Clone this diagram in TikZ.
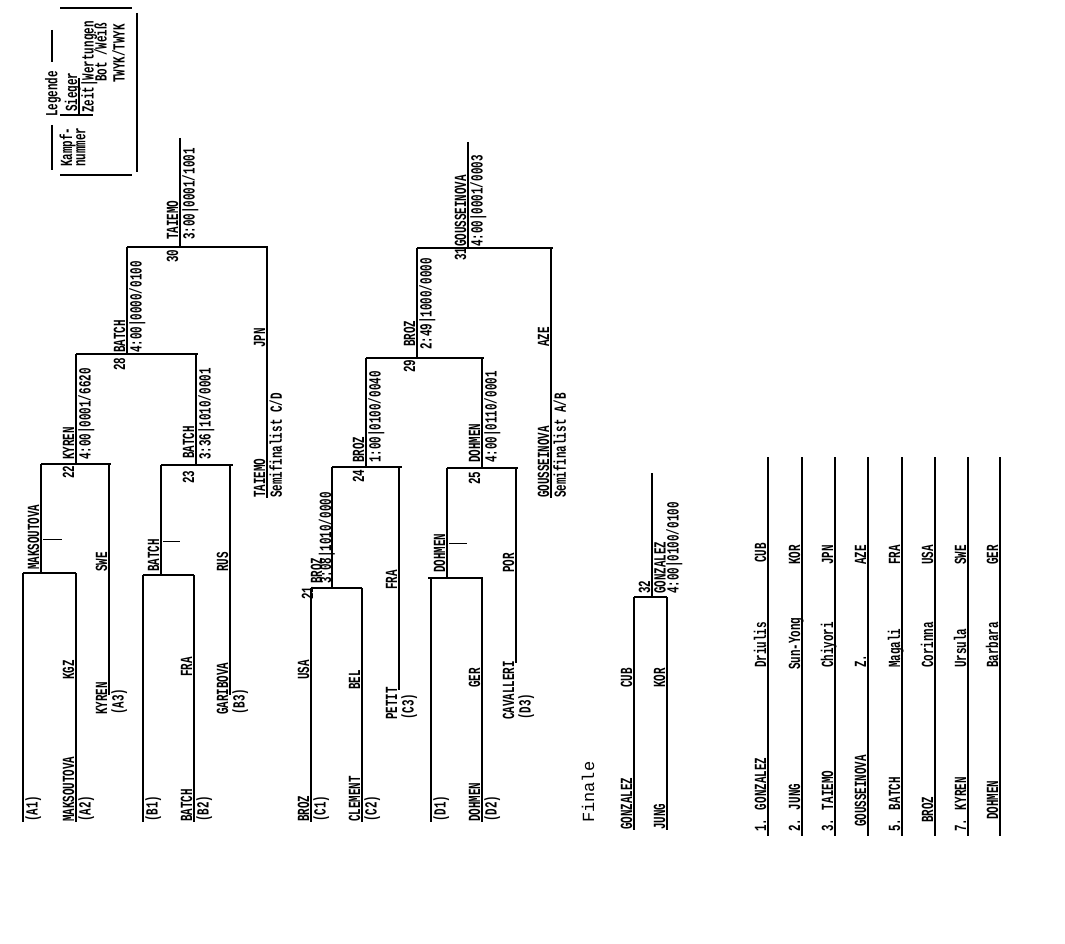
\documentclass[tikz,border=0pt]{standalone}
\usepackage{fontspec}
\newfontfamily\cond[FakeStretch=0.64]{Liberation Mono}
\newfontfamily\plainmono{Liberation Mono}
\begin{document}
\begin{tikzpicture}[x=1pt,y=-1pt]
\tikzset{ln/.style={line width=1.2pt,black},
  lbl/.style={font=\cond\bfseries\fontsize{17}{17}\selectfont,inner sep=0pt,rotate=90},
  tick/.style={line width=0.9pt,black}}
\newcommand\VL[4]{\coordinate (#1t) at (#2,#3); \coordinate (#1b) at (#2,#4); \draw[ln] (#1t) -- (#1b);}
\newcommand\HL[4]{\coordinate (#1l) at (#3,#2); \coordinate (#1r) at (#4,#2); \draw[ln] (#1l) -- (#1r);}
\newcommand\LT[4]{\node[lbl,anchor=base west] (#1) at (#2-2,#3) {#4};}
\newcommand\RT[4]{\node[lbl,anchor=north west] (#1) at (#2+2,#3) {#4};}
\useasboundingbox (0,0) rectangle (1065,944);
\fill[white] (0,0) rectangle (1065,944);
% ---------- Legend ----------
\HL{lgT}{8}{60}{132}
\HL{lgB}{175}{60}{132}
\VL{lgR}{137}{13}{172}
\VL{lgL1}{52}{30}{62}
\VL{lgL2}{52}{125}{170}
\node[lbl,anchor=center] (lgTitle) at (53,94) {Legende};
\LT{lgK}{74}{167}{Kampf-}
\RT{lgN}{74}{167}{nummer}
\HL{lgS}{115}{60}{93}
\LT{lgSi}{79}{112}{Sieger}
\RT{lgZ}{79}{113}{Zeit|Wertungen}
\RT{lgBW}{92}{82}{Bot /Weiß}
\RT{lgTW}{110}{83}{TWYK/TWYK}
\VL{lgKu}{79}{78}{115}
% ---------- Pool A ----------
\VL{A1}{23}{573}{822}
\VL{A2}{76}{573}{822}
\HL{cAA}{573}{23}{76}
\VL{wA}{41}{464}{573}
\VL{A3}{109}{464}{695}
\HL{c22}{464}{41}{111}
\VL{w22}{76}{354}{464}
\RT{tA1}{23}{822}{(A1)}
\LT{tA2}{76}{822}{MAKSOUTOVA}
\RT{tA2c}{76}{822}{(A2)}
\LT{tA2n}{76}{680}{KGZ}
\LT{twA}{41}{570}{MAKSOUTOVA}
\coordinate (tkA1) at (43,539); \coordinate (tkA2) at (62,539);
\draw[tick] (tkA1) -- (tkA2);
\LT{tA3n}{109}{572}{SWE}
\LT{tA3}{109}{715}{KYREN}
\RT{tA3c}{109}{715}{(A3)}
\LT{n22}{76}{479}{22}
\LT{tw22}{76}{460}{KYREN}
\RT{sw22}{76}{460}{4:00|0001/6620}
% ---------- Pool B ----------
\VL{B1}{143}{575}{822}
\VL{B2}{194}{575}{822}
\HL{cBB}{575}{143}{194}
\VL{wB}{161}{465}{575}
\VL{B3}{230}{465}{695}
\HL{c23}{465}{161}{233}
\VL{w23}{196}{354}{465}
\HL{c28}{354}{76}{198}
\RT{tB1}{143}{822}{(B1)}
\LT{tB2}{194}{822}{BATCH}
\RT{tB2c}{194}{822}{(B2)}
\LT{tB2n}{194}{677}{FRA}
\LT{twB}{161}{572}{BATCH}
\coordinate (tkB1) at (163,541); \coordinate (tkB2) at (180,541);
\draw[tick] (tkB1) -- (tkB2);
\LT{tB3n}{230}{572}{RUS}
\LT{tB3}{230}{715}{GARIBOVA}
\RT{tB3c}{230}{715}{(B3)}
\LT{n23}{196}{484}{23}
\LT{tw23}{196}{459}{BATCH}
\RT{sw23}{196}{460}{3:36|1010/0001}
\LT{n28}{127}{371}{28}
\VL{w28}{127}{247}{354}
\LT{tw28}{127}{353}{BATCH}
\RT{sw28}{127}{353}{4:00|0000/0100}
\VL{SCD}{267}{247}{498}
\LT{tSCDn}{267}{348}{JPN}
\LT{tSCD}{267}{498}{TAIEMO}
\RT{tSCDs}{267}{498}{Semifinalist C/D}
\HL{c30}{247}{127}{268}
\LT{n30}{180}{263}{30}
\VL{w30}{180}{138}{247}
\LT{tw30}{180}{240}{TAIEMO}
\RT{sw30}{180}{240}{3:00|0001/1001}
% ---------- Pool C ----------
\VL{C1}{311}{588}{822}
\VL{C2}{362}{588}{822}
\HL{c21}{588}{311}{362}
\VL{w21}{332}{467}{588}
\LT{tC1}{311}{822}{BROZ}
\RT{tC1c}{311}{822}{(C1)}
\LT{tC1n}{311}{680}{USA}
\LT{tC2}{362}{822}{CLEMENT}
\RT{tC2c}{362}{822}{(C2)}
\LT{tC2n}{362}{690}{BEL}
\LT{n21}{315}{600}{21}
\LT{tw21}{324}{584}{BROZ}
\LT{sw21}{333}{584}{3:08|1010/0000}
\VL{C3}{399}{467}{690}
\LT{tC3n}{399}{590}{FRA}
\LT{tC3}{399}{720}{PETIT}
\RT{tC3c}{399}{720}{(C3)}
\HL{c24}{467}{332}{402}
\LT{n24}{366}{483}{24}
\VL{w24}{366}{358}{467}
\LT{tw24}{366}{463}{BROZ}
\RT{sw24}{366}{463}{1:00|0100/0040}
\HL{c29}{358}{366}{484}
\LT{n29}{417}{373}{29}
\VL{w29}{417}{248}{358}
\LT{tw29}{417}{347}{BROZ}
\RT{sw29}{417}{350}{2:49|1000/0000}
\HL{c31}{248}{417}{553}
\LT{n31}{468}{261}{31}
\VL{w31}{468}{142}{248}
\LT{tw31}{468}{247}{GOUSSEINOVA}
\RT{sw31}{468}{247}{4:00|0001/0003}
\VL{SAB}{551}{248}{498}
\LT{tSABn}{551}{347}{AZE}
\LT{tSAB}{551}{498}{GOUSSEINOVA}
\RT{tSABs}{551}{498}{Semifinalist A/B}
% ---------- Pool D ----------
\VL{D1}{431}{578}{822}
\VL{D2}{482}{578}{822}
\HL{cDD}{578}{428}{483}
\VL{wD}{447}{468}{578}
\VL{D3}{516}{468}{663}
\HL{c25}{468}{447}{518}
\VL{w25}{482}{358}{468}
\RT{tD1}{431}{822}{(D1)}
\LT{tD2}{482}{822}{DOHMEN}
\RT{tD2c}{482}{822}{(D2)}
\LT{tD2n}{482}{688}{GER}
\LT{twD}{447}{573}{DOHMEN}
\coordinate (tkD1) at (449,543); \coordinate (tkD2) at (467,543);
\draw[tick] (tkD1) -- (tkD2);
\LT{tD3n}{516}{573}{POR}
\LT{tD3}{516}{720}{CAVALLERI}
\RT{tD3c}{516}{720}{(D3)}
\LT{n25}{482}{485}{25}
\LT{tw25}{482}{463}{DOHMEN}
\RT{sw25}{482}{463}{4:00|0110/0001}
% ---------- Finale ----------
\node[rotate=90,inner sep=0pt,anchor=base west,font=\plainmono\fontsize{17}{17}\selectfont] (fin) at (594,823) {Finale};
\VL{F1}{634}{597}{830}
\VL{F2}{667}{597}{830}
\HL{c32}{597}{634}{667}
\VL{w32}{652}{473}{597}
\LT{tF1}{634}{830}{GONZALEZ}
\LT{tF1n}{634}{688}{CUB}
\LT{tF2}{667}{830}{JUNG}
\LT{tF2n}{667}{688}{KOR}
\LT{n32}{652}{594}{32}
\RT{tw32}{652}{594}{GONZALEZ}
\RT{sw32}{664}{594}{4:00|0100/0100}
% ---------- Standings ----------
\VL{R1}{768}{457}{836}
\VL{R2}{802}{457}{836}
\VL{R3}{835}{457}{836}
\VL{R4}{868}{457}{836}
\VL{R5}{902}{457}{836}
\VL{R6}{935}{457}{836}
\VL{R7}{968}{457}{836}
\VL{R8}{1000}{457}{836}
\LT{r1a}{768}{832}{1. GONZALEZ}\LT{r1b}{768}{668}{Driulis}\LT{r1c}{768}{563}{CUB}
\LT{r2a}{802}{832}{2. JUNG}\LT{r2b}{802}{670}{Sun-Yong}\LT{r2c}{802}{565}{KOR}
\LT{r3a}{835}{832}{3. TAIEMO}\LT{r3b}{835}{668}{Chiyori}\LT{r3c}{835}{565}{JPN}
\LT{r4a}{868}{827}{GOUSSEINOVA}\LT{r4b}{868}{668}{Z.}\LT{r4c}{868}{565}{AZE}
\LT{r5a}{902}{832}{5. BATCH}\LT{r5b}{902}{668}{Magali}\LT{r5c}{902}{565}{FRA}
\LT{r6a}{935}{823}{BROZ}\LT{r6b}{935}{668}{Corinna}\LT{r6c}{935}{565}{USA}
\LT{r7a}{968}{832}{7. KYREN}\LT{r7b}{968}{668}{Ursula}\LT{r7c}{968}{565}{SWE}
\LT{r8a}{1000}{820}{DOHMEN}\LT{r8b}{1000}{668}{Barbara}\LT{r8c}{1000}{565}{GER}
\end{tikzpicture}
\end{document}
